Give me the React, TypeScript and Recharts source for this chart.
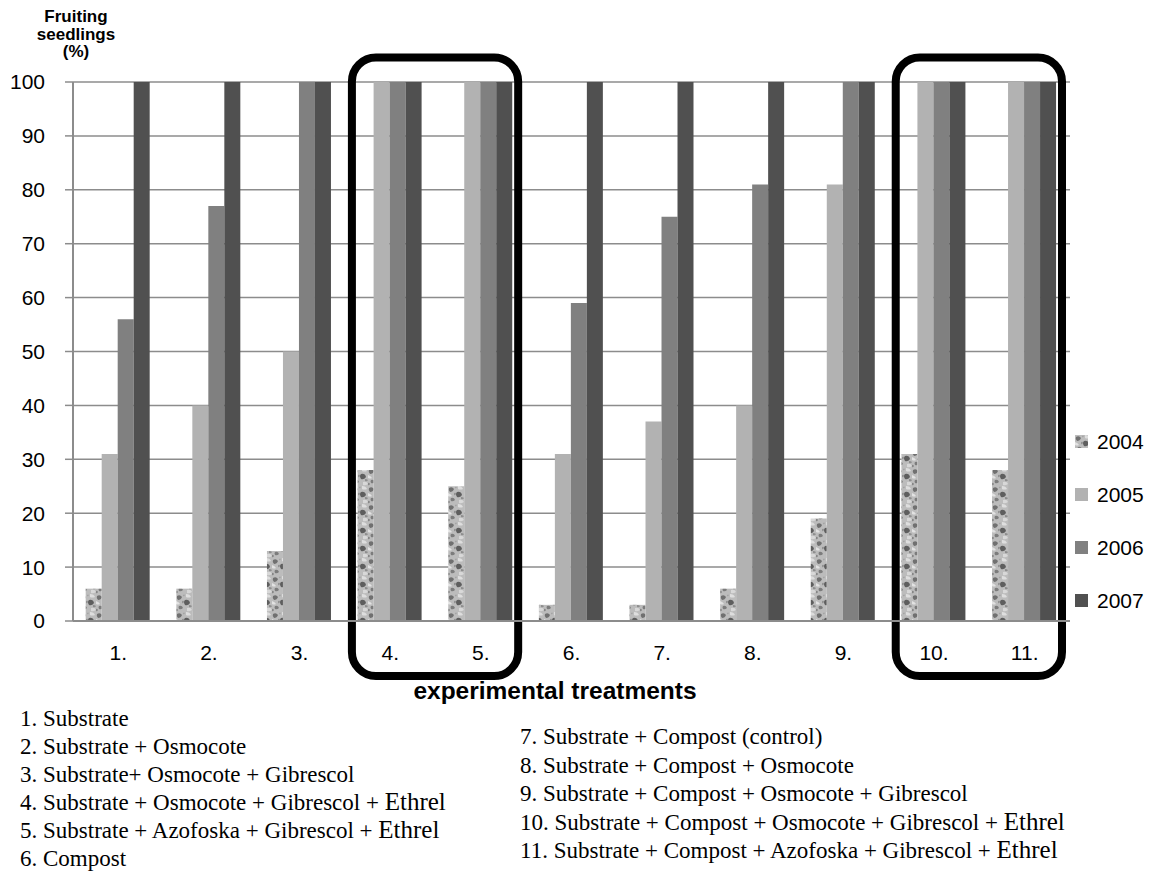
import React from 'react';
import { BarChart, Bar, XAxis, YAxis, CartesianGrid, Legend, ReferenceArea } from 'recharts';

const categories = ['1.', '2.', '3.', '4.', '5.', '6.', '7.', '8.', '9.', '10.', '11.'];
const s2004 = [6, 6, 13, 28, 25, 3, 3, 6, 19, 31, 28];
const s2005 = [31, 40, 50, 100, 100, 31, 37, 40, 81, 100, 100];
const s2006 = [56, 77, 100, 100, 100, 59, 75, 81, 100, 100, 100];
const s2007 = [100, 100, 100, 100, 100, 100, 100, 100, 100, 100, 100];
const yTicks = [0, 10, 20, 30, 40, 50, 60, 70, 80, 90, 100];
const highlighted = [['4.', '5.'], ['10.', '11.']];

const seriesNames = ['2004', '2005', '2006', '2007'];
const seriesFills = ['url(#speckle)', '#b2b2b2', '#808080', '#505050'];

const leftNotes = [
  ['1. Substrate', ''],
  ['2. Substrate + Osmocote', ''],
  ['3. Substrate+ Osmocote + Gibrescol', ''],
  ['4. Substrate + Osmocote + Gibrescol + ', 'Ethrel'],
  ['5. Substrate + Azofoska + Gibrescol + ', 'Ethrel'],
  ['6. Compost', ''],
];
const rightNotes = [
  ['7. Substrate + Compost (control)', ''],
  ['8. Substrate + Compost + Osmocote', ''],
  ['9. Substrate + Compost + Osmocote + Gibrescol', ''],
  ['10. Substrate + Compost + Osmocote + Gibrescol + ', 'Ethrel'],
  ['11. Substrate + Compost + Azofoska + Gibrescol + ', 'Ethrel'],
];

const data = categories.map((c, i) => ({
  name: c,
  y2004: s2004[i],
  y2005: s2005[i],
  y2006: s2006[i],
  y2007: s2007[i],
}));

const SANS = '"Liberation Sans", Arial, sans-serif';
const SERIF = '"Liberation Serif", "Times New Roman", serif';

const BoxShape = (props: any) => {
  const { x, y, width, height } = props;
  return (
    <rect
      x={x + 7}
      y={y - 24.5}
      width={width - 15}
      height={height + 24.5 + 55}
      rx={24}
      ry={24}
      fill="none"
      stroke="#000"
      strokeWidth={8}
    />
  );
};

const LegendContent = () => (
  <div style={{ fontFamily: SANS, fontSize: 21, color: '#000' }}>
    {seriesNames.map((n, i) => (
      <div key={n} style={{ display: 'flex', alignItems: 'center', height: 53 }}>
        <svg width={13} height={13} style={{ marginRight: 9 }}>
          <rect x={0} y={0} width={13} height={13} fill={seriesFills[i]} />
        </svg>
        <span>{n}</span>
      </div>
    ))}
  </div>
);

export default function App() {
  return (
    <div style={{ position: 'absolute', left: 0, top: 0, width: 1156, height: 881, background: '#fff' }}>
      <svg width={0} height={0} style={{ position: 'absolute' }}>
        <defs>
          <pattern id="speckle" patternUnits="userSpaceOnUse" width={16} height={18}>
            <rect x={0} y={0} width={16} height={18} fill="#bcbcbc" />
            <path d="M1 2 Q4 0 6 3 Q5 6 2 6 Q0 4 1 2 Z" fill="#707070" />
            <path d="M9 6 Q13 5 14 9 Q12 12 9 11 Q7 8 9 6 Z" fill="#5e5e5e" />
            <path d="M3 12 Q6 11 7 14 Q5 16 3 15 Q2 13 3 12 Z" fill="#7c7c7c" />
            <path d="M10 0 Q14 0 15 3 Q12 4 10 3 Z" fill="#dedede" />
            <path d="M0 7 Q3 8 4 10 Q2 11 0 10 Z" fill="#e2e2e2" />
            <path d="M11 14 Q15 13 16 16 Q13 18 11 17 Z" fill="#d8d8d8" />
            <path d="M6 7 Q8 6 8 8 Q7 10 6 9 Z" fill="#929292" />
            <path d="M13 11 Q15 11 16 12 Q15 14 13 13 Z" fill="#8e8e8e" />
            <path d="M7 1 Q8 0 9 1 Q8 3 7 2 Z" fill="#a4a4a4" />
            <path d="M0 15 Q1 14 2 16 Q1 18 0 17 Z" fill="#868686" />
          </pattern>
        </defs>
      </svg>
      <BarChart
        width={1156}
        height={700}
        data={data}
        margin={{ top: 82, right: 86, left: 0, bottom: 39 }}
        barCategoryGap="14%"
        barGap={0}
      >
        <CartesianGrid vertical={false} stroke="#8c8c8c" strokeWidth={1.5} />
        <XAxis
          dataKey="name"
          height={40}
          tickLine={false}
          tickSize={0}
          tickMargin={24}
          axisLine={{ stroke: '#8c8c8c', strokeWidth: 2 }}
          tick={{ fill: '#000', fontSize: 21, fontFamily: SANS }}
          interval={0}
        />
        <YAxis
          width={73}
          domain={[0, 100]}
          ticks={yTicks}
          interval={0}
          tickSize={8}
          tickMargin={20}
          tickLine={{ stroke: '#8c8c8c', strokeWidth: 1.5 }}
          axisLine={{ stroke: '#8c8c8c', strokeWidth: 2 }}
          tick={{ fill: '#000', fontSize: 21, fontFamily: SANS }}
        />
        <Legend
          layout="vertical"
          align="center"
          verticalAlign="middle"
          content={<LegendContent />}
          wrapperStyle={{ position: 'absolute', left: 1075, top: 415, width: 80, bottom: 'auto', right: 'auto' }}
        />
        <Bar dataKey="y2004" name="2004" fill="url(#speckle)" isAnimationActive={false} />
        <Bar dataKey="y2005" name="2005" fill="#b2b2b2" isAnimationActive={false} />
        <Bar dataKey="y2006" name="2006" fill="#808080" isAnimationActive={false} />
        <Bar dataKey="y2007" name="2007" fill="#505050" isAnimationActive={false} />
        {highlighted.map(([a, b]) => (
          <ReferenceArea key={a} x1={a} x2={b} ifOverflow="visible" shape={BoxShape} />
        ))}
      </BarChart>
      <svg
        width={1156}
        height={881}
        style={{ position: 'absolute', left: 0, top: 0, pointerEvents: 'none' }}
      >
        <text textAnchor="middle" fontFamily={SANS} fontWeight="bold" fontSize={17} fill="#000">
          <tspan x={76} y={22}>Fruiting</tspan>
          <tspan x={76} y={39.5}>seedlings</tspan>
          <tspan x={76} y={57}>(%)</tspan>
        </text>
        <text x={555} y={699} textAnchor="middle" fontFamily={SANS} fontWeight="bold" fontSize={24.5} fill="#000">
          experimental treatments
        </text>
        {leftNotes.map(([t, e], i) => (
          <text key={t} x={20} y={726 + i * 28} fontFamily={SERIF} fontSize={23} fill="#000">
            {t}
            {e ? <tspan fontSize={25}>{e}</tspan> : null}
          </text>
        ))}
        {rightNotes.map(([t, e], i) => (
          <text key={t} x={520} y={744 + i * 28.5} fontFamily={SERIF} fontSize={23} fill="#000">
            {t}
            {e ? <tspan fontSize={25}>{e}</tspan> : null}
          </text>
        ))}
      </svg>
    </div>
  );
}
